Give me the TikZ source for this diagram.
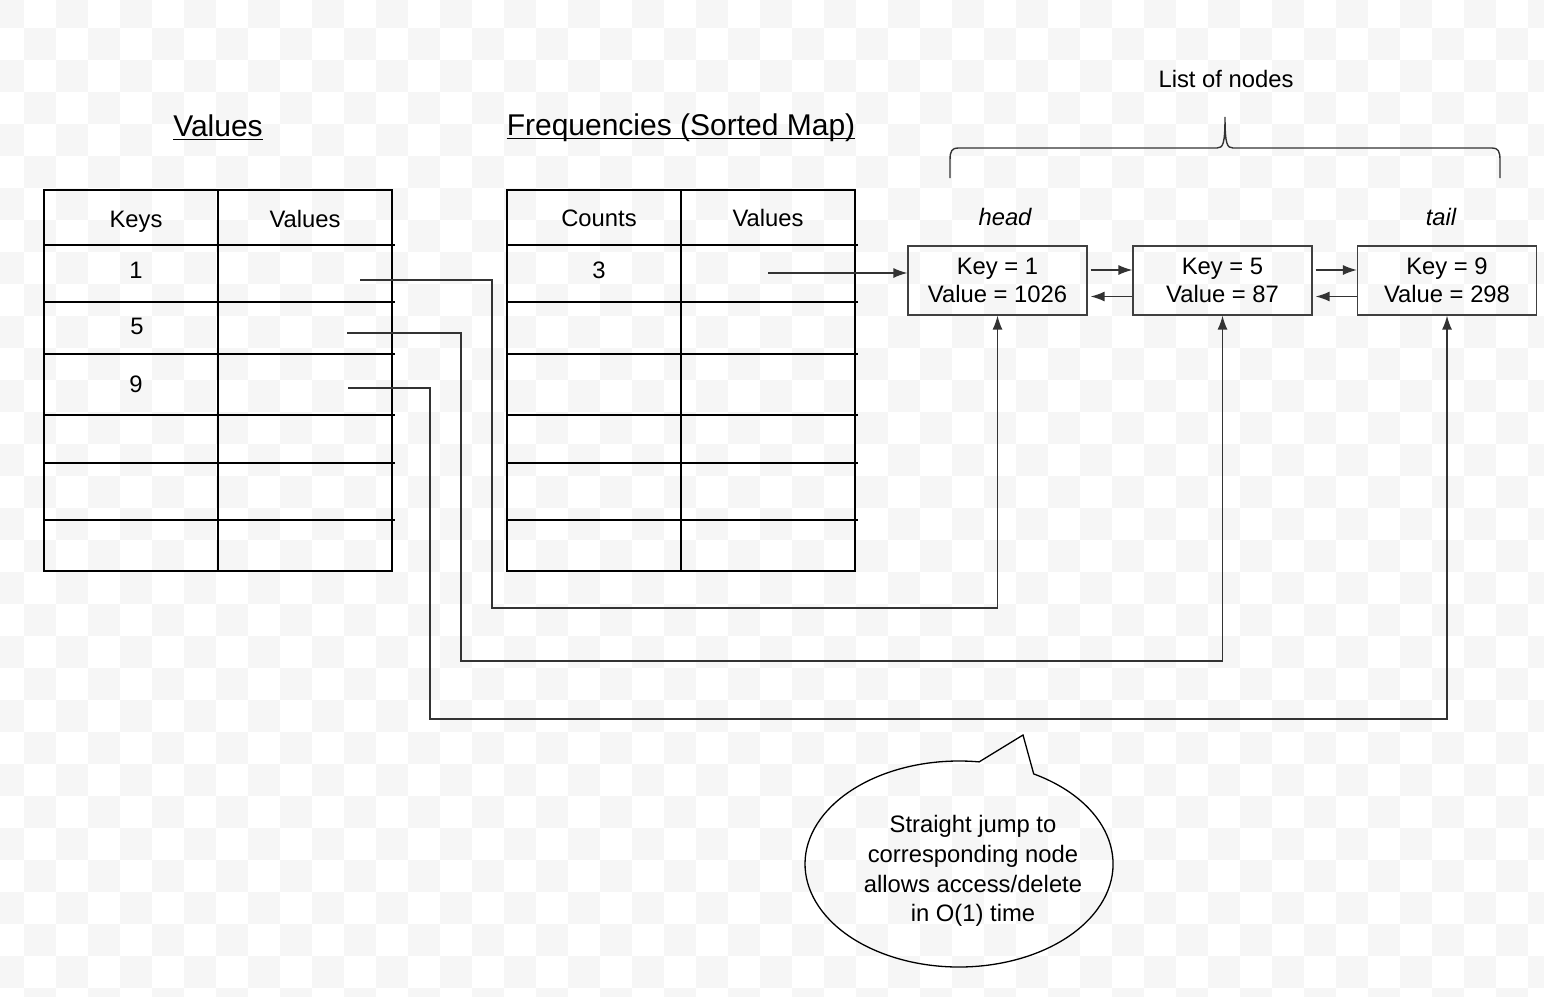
\documentclass[tikz,border=0pt]{standalone}
\usepackage{fontspec}
\setmainfont{Liberation Sans}
\usetikzlibrary{arrows.meta}
\tikzset{
  Karo/.style={fill=black!3.5}, % Hintergrund
  Gitter/.style={line width=1.6pt},
  Linie/.style={line width=1.4pt, draw=black!80},
  Pfeil/.style={Linie, -{Latex[length=14pt,width=10pt]}},
  Knoten/.style={draw=black!75, line width=1.2pt, minimum width=179pt, minimum height=69pt, align=center, inner sep=0pt},
  Titel/.style={font=\fontsize{30}{36}\selectfont, inner sep=0pt, anchor=base},
  Text/.style={inner sep=0pt, anchor=base}
}

\begin{document}
\begin{tikzpicture}[x=1pt, y=-1pt, font=\fontsize{23.8}{28}\selectfont]
\useasboundingbox (0,0) rectangle (1544,996);
\clip (0,0) rectangle (1544,996);

% Hintergrund
\foreach \j in {0,...,31} {
  \pgfmathtruncatemacro\st{mod(\j,2)}
  \pgfmathtruncatemacro\stt{\st+2}
  \foreach \i in {\st,\stt,...,48}
    \fill[Karo] (-8+32*\i,-4+32*\j) rectangle ++(32,32);
}

% Tabellen
\foreach \x in {44,507} {
  \draw[Gitter] (\x,190) rectangle ++(348,381);
  \draw[Gitter] (\x+174,190) -- ++(0,381);
  \foreach \y in {245,302,354,415,463,520}
    \draw[Gitter] (\x,\y) -- ++(351,0);
}

\node[Titel] (titelV) at (218,136) {Values};
\node[Titel] (titelF) at (681,135) {Frequencies (Sorted Map)};
\foreach \t in {titelV,titelF}
  \draw[line width=1.5pt] ([yshift=-3.5pt]\t.base west) -- ([yshift=-3.5pt]\t.base east);

\node[Text] (keys) at (136,227) {Keys};
\node[Text] (vals) at (305,227) {Values};
\node[Text] (k1) at (136,278) {1};
\node[Text] (k5) at (137,334) {5};
\node[Text] (k9) at (136,392) {9};
\node[Text] (counts) at (599,226) {Counts};
\node[Text] (vals2) at (768,226) {Values};
\node[Text] (c3) at (599,278) {3};

% Liste
\node[Knoten] (n1) at (997.5,280.5) {Key = 1\\Value = 1026};
\node[Knoten] (n2) at (1222.5,280.5) {Key = 5\\Value = 87};
\node[Knoten] (n3) at (1447,280.5) {Key = 9\\Value = 298};
\node[Text] (head) at (1005,225) {\itshape head};
\node[Text] (tail) at (1441,225) {\itshape tail};

\foreach \a/\b in {n1/n2,n2/n3} {
  \draw[Pfeil] ([xshift=3pt,yshift=10.5pt]\a.east) -- ([yshift=10.5pt]\b.west);
  \draw[Pfeil] ([yshift=-16pt]\b.west) -- ([xshift=3pt,yshift=-16pt]\a.east);
}

\draw[Linie] (950,178) -- (950,160) .. controls (950,151) and (952,148) .. (958,148) -- (1217,148)
  .. controls (1223,148) and (1225,144) .. (1225,117) .. controls (1225,144) and (1227,148) .. (1233,148)
  -- (1492,148) .. controls (1498,148) and (1500,151) .. (1500,160) -- (1500,178);
\node[Text] (liste) at (1226,87) {List of nodes};

% Pfeile
\coordinate (w3) at (768,273);
\coordinate (w1) at (360,280);
\coordinate (w5) at (347,333);
\coordinate (w9) at (348,388);
\draw[Pfeil] (w3) -- (w3 -| n1.west);
\draw[Pfeil] (w1) -| (492,608) -| (n1.south);
\draw[Pfeil] (w5) -| (461,661) -| (n2.south);
\draw[Pfeil] (w9) -| (430,719) -| (n3.south);

% Sprechblase
\coordinate (blase) at (959,864);
\coordinate (spitze) at (1023,735);
\draw[line width=1.3pt] (spitze) -- ([shift={(74.7,-90.1)}]blase)
  arc[start angle=61, end angle=-277.5, x radius=154pt, y radius=103pt] -- cycle;
\node[align=center, font=\fontsize{23.8}{29.7}\selectfont] (hinweis) at (973,871)
  {Straight jump to\\corresponding node\\allows access/delete\\in O(1) time};

\end{tikzpicture}
\end{document}
